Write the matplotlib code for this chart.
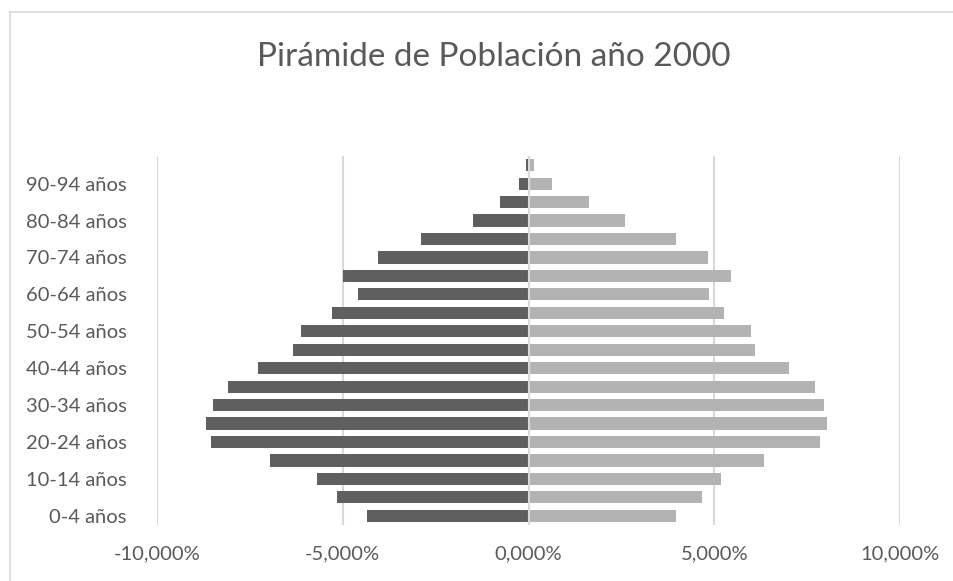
import matplotlib
matplotlib.use('Agg')
import matplotlib.pyplot as plt
from matplotlib.ticker import FuncFormatter
from matplotlib.lines import Line2D
import numpy as np

# Age groups (bottom to top)
age_groups = ['0-4 años', '5-9 años', '10-14 años', '15-19 años', '20-24 años',
              '25-29 años', '30-34 años', '35-39 años', '40-44 años', '45-49 años',
              '50-54 años', '55-59 años', '60-64 años', '65-69 años', '70-74 años',
              '75-79 años', '80-84 años', '85-89 años', '90-94 años', '95-99 años']

# Percent of population, left side (dark) and right side (light)
men = [4.34, 5.15, 5.70, 6.95, 8.54, 8.68, 8.48, 8.10, 7.29, 6.33,
       6.12, 5.30, 4.59, 5.00, 4.05, 2.90, 1.49, 0.78, 0.26, 0.06]
women = [3.98, 4.68, 5.18, 6.34, 7.85, 8.04, 7.96, 7.71, 7.00, 6.10,
         5.99, 5.27, 4.85, 5.46, 4.84, 3.96, 2.59, 1.62, 0.64, 0.15]

x_ticks = [-10, -5, 0, 5, 10]

text_color = '#595959'
grid_color = '#d9d9d9'
plt.rcParams['font.family'] = ['Lato', 'DejaVu Sans']

W, H = 954, 581
fig = plt.figure(figsize=(W / 100, H / 100), dpi=100)
ax = fig.add_axes([157 / W, 1 - 525 / H, (900 - 157) / W, (525 - 156) / H])

y = np.arange(len(age_groups))
ax.barh(y, -np.array(men), height=0.66, color='#5f5f5f', zorder=3)
ax.barh(y, women, height=0.66, color='#b3b3b3', zorder=3)

ax.set_xlim(-10, 10)
ax.set_ylim(-0.5, len(age_groups) - 0.5)
ax.set_xticks(x_ticks)
ax.xaxis.set_major_formatter(FuncFormatter(lambda v, p: f'{v:.3f}'.replace('.', ',') + '%'))
ax.set_yticks(y[::2])
ax.set_yticklabels(age_groups[::2])

ax.grid(axis='x', color=grid_color, linewidth=1.5, zorder=0)
ax.axvline(0, color=grid_color, linewidth=1.5, zorder=4)
for s in ax.spines.values():
    s.set_visible(False)
ax.tick_params(axis='both', length=0, labelsize=14.5, colors=text_color)
ax.tick_params(axis='x', pad=15)
ax.tick_params(axis='y', pad=22)

fig.text(494 / W, 1 - 57 / H, 'Pirámide de Población año 2000',
         ha='center', va='center', fontsize=24, color=text_color)

# chart border (top and left visible)
fig.add_artist(Line2D([10 / W, 1], [1 - 11.5 / H, 1 - 11.5 / H],
                      transform=fig.transFigure, color=grid_color, linewidth=1.2))
fig.add_artist(Line2D([10 / W, 10 / W], [0, 1 - 11.5 / H],
                      transform=fig.transFigure, color=grid_color, linewidth=1.2))

fig.savefig('out.png', dpi=100, facecolor='white')
